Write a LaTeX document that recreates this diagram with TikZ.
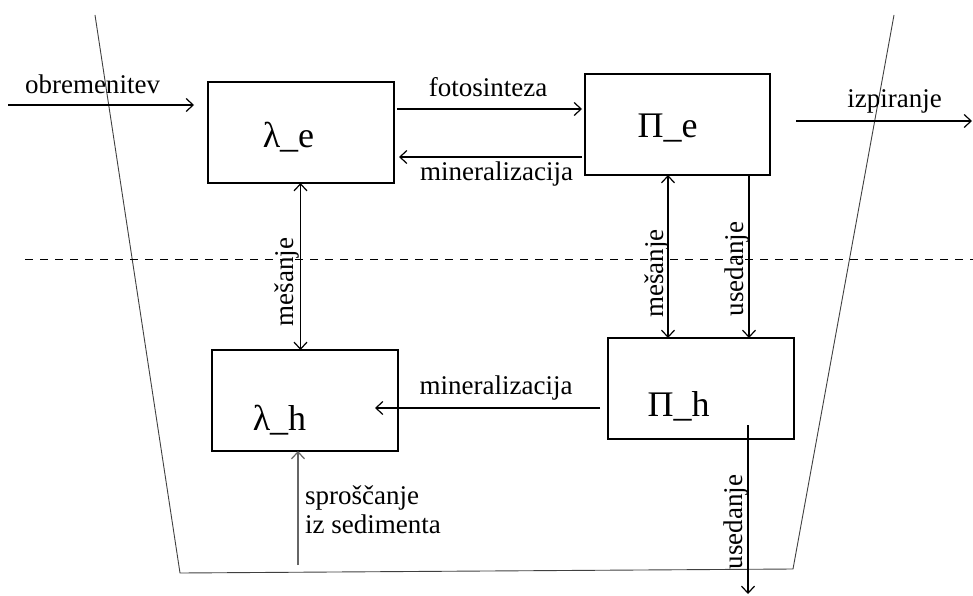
\documentclass[tikz,border=0pt]{standalone}
\usepackage{fontspec}
\setmainfont{Liberation Serif}
\usetikzlibrary{arrows.meta}
\begin{document}
\begin{tikzpicture}[x=1pt,y=-1pt,
  box/.style={draw, line width=1.3pt, minimum width=186pt, minimum height=101pt, inner sep=0pt, outer sep=0pt},
  lbl/.style={font=\fontsize{27}{30}\selectfont, inner sep=0pt, anchor=base},
  boxlbl/.style={font=\fontsize{36}{40}\selectfont, inner sep=0pt, anchor=base},
  arr/.style={line width=1.2pt, -{Straight Barb[length=7pt,width=13pt]}},
  arrb/.style={line width=1.2pt, {Straight Barb[length=7pt,width=13pt]}-{Straight Barb[length=7pt,width=13pt]}},
  basin/.style={line width=0.9pt, black!75}]
\useasboundingbox (0,0) rectangle (973,596);
% basin
\coordinate (bTL) at (95,15);
\coordinate (bBL) at (180,573);
\coordinate (bBR) at (793,569);
\coordinate (bTR) at (894,15);
\draw[basin] (bTL) -- (bBL) -- (bBR) -- (bTR);
% dashed layer boundary
\coordinate (dL) at (25,259);
\coordinate (dR) at (973,259);
\draw[line width=1pt, dash pattern=on 8pt off 7pt] (dL) -- (dR);
% boxes
\node[box] (lamE) at (301,132.5) {};
\node[box, minimum width=185pt] (PiE) at (677.5,124.5) {};
\node[box] (lamH) at (305,400.5) {};
\node[box] (PiH) at (701,388.5) {};
% box labels
\node[boxlbl] (tLamE) at (288.5,148) {λ\_e};
\node[boxlbl] (tPiE) at (667.5,138) {Π\_e};
\node[boxlbl] (tLamH) at (279.5,430) {λ\_h};
\node[boxlbl] (tPiH) at (678.5,416) {Π\_h};
% connectors
\coordinate (oS) at (8,105);
\draw[arr, shorten >=14pt] (oS) -- (lamE.west |- oS);
\coordinate (yF) at (0,109);
\draw[arr, shorten <=3pt, shorten >=3pt] (lamE.east |- yF) -- (PiE.west |- yF);
\coordinate (yM) at (0,157);
\draw[arr, shorten <=3pt, shorten >=5pt] (PiE.west |- yM) -- (lamE.east |- yM);
\coordinate (izE) at (972,121);
\draw[arr, shorten <=26pt] (PiE.east |- izE) -- (izE);
\coordinate (xL) at (300.5,0);
\draw[arrb] (lamE.south -| xL) -- (lamH.north -| xL);
\coordinate (xR) at (668,0);
\draw[arrb] (PiE.south -| xR) -- (PiH.north -| xR);
\coordinate (xU) at (749,0);
\draw[arr] (PiE.south -| xU) -- (PiH.north -| xU);
\coordinate (mhE) at (375,408);
\draw[arr, shorten <=8pt] (PiH.west |- mhE) -- (mhE);
\coordinate (uS) at (748,425);
\coordinate (uE) at (748,594);
\draw[arr] (uS) -- (uE);
\coordinate (spS) at (298,565);
\draw[arr, black!60] (spS) -- (lamH.south -| spS);
% labels
\node[lbl] (lObr) at (92.5,94) {obremenitev};
\node[lbl] (lFoto) at (488,97) {fotosinteza};
\node[lbl] (lMinT) at (496.5,180) {mineralizacija};
\node[lbl] (lIzp) at (894.5,108) {izpiranje};
\node[lbl] (lMinB) at (496,394) {mineralizacija};
\node[lbl, anchor=base west] (lSp1) at (305,504) {sproščanje};
\node[lbl, anchor=base west] (lSp2) at (305,533) {iz sedimenta};
\node[lbl, rotate=90] (lMesL) at (293,282) {mešanje};
\node[lbl, rotate=90] (lMesR) at (663,273.5) {mešanje};
\node[lbl, rotate=90] (lUsU) at (743,269) {usedanje};
\node[lbl, rotate=90] (lUsL) at (742,522) {usedanje};
\end{tikzpicture}
\end{document}
